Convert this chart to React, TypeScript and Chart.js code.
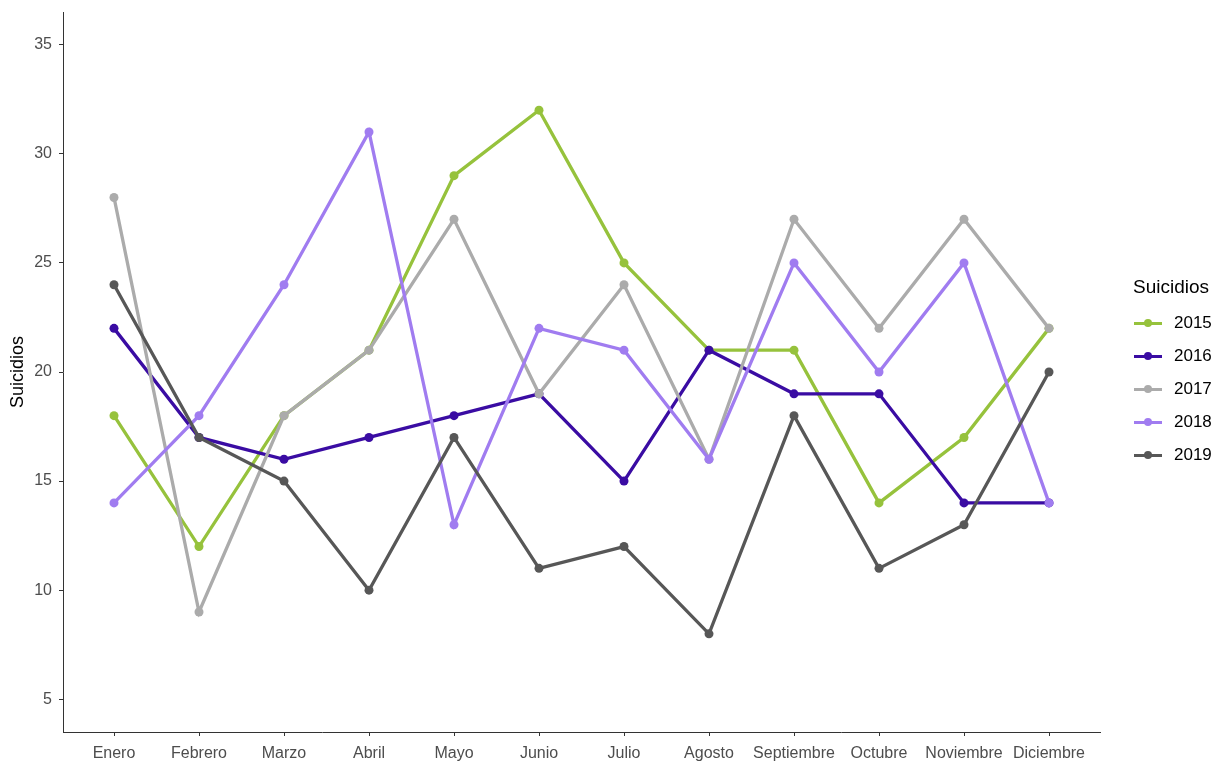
import React, { useEffect, useRef } from "react";
import { Chart, registerables } from "chart.js";

Chart.register(...registerables);

const months = ["Enero", "Febrero", "Marzo", "Abril", "Mayo", "Junio", "Julio", "Agosto", "Septiembre", "Octubre", "Noviembre", "Diciembre"];
const years = ["2015", "2016", "2017", "2018", "2019"];
const colors = ["#96C23C", "#3A0CA3", "#ABABAB", "#A07CF0", "#575757"];
const s2015 = [18, 12, 18, 21, 29, 32, 25, 21, 21, 14, 17, 22];
const s2016 = [22, 17, 16, 17, 18, 19, 15, 21, 19, 19, 14, 14];
const s2017 = [28, 9, 18, 21, 27, 19, 24, 16, 27, 22, 27, 22];
const s2018 = [14, 18, 24, 31, 13, 22, 21, 16, 25, 20, 25, 14];
const s2019 = [24, 17, 15, 10, 17, 11, 12, 8, 18, 11, 13, 20];
const series = [s2015, s2016, s2017, s2018, s2019];
const yTicks = [5, 10, 15, 20, 25, 30, 35];

const FONT = "'Liberation Sans', Arial, sans-serif";

export default function App() {
  const ref = useRef<HTMLCanvasElement | null>(null);
  useEffect(() => {
    if (!ref.current) return;
    const chart = new Chart(ref.current, {
      type: "line",
      data: {
        datasets: series.map((vals, i) => ({
          label: years[i],
          data: vals.map((v, j) => ({ x: j, y: v })),
          borderColor: colors[i],
          backgroundColor: colors[i],
          borderWidth: 3.3,
          pointRadius: 4.5,
          pointBorderWidth: 0,
          pointHoverRadius: 4.5,
          tension: 0,
          order: series.length - 1 - i,
        })),
      },
      options: {
        animation: false,
        responsive: false,
        layout: { padding: { top: 12, right: 126, left: 0, bottom: 0 } },
        plugins: { legend: { display: false }, tooltip: { enabled: false } },
        scales: {
          x: {
            type: "linear",
            min: -0.6,
            max: months.length - 1 + 0.6,
            afterBuildTicks: (scale: any) => {
              scale.ticks = months.map((_, i) => ({ value: i }));
            },
            afterFit: (scale: any) => {
              scale.height = 29;
              scale.paddingLeft = 0;
              scale.paddingRight = 0;
            },
            ticks: {
              autoSkip: false,
              maxRotation: 0,
              minRotation: 0,
              padding: 8,
              color: "#4D4D4D",
              font: { family: FONT, size: 16 },
              callback: (v: any) => months[v as number],
            },
            grid: { drawOnChartArea: false, drawTicks: true, tickLength: 4, color: "#333333" },
            border: { display: true, color: "#333333", width: 1 },
          },
          y: {
            type: "linear",
            min: 3.5,
            max: 36.5,
            afterBuildTicks: (scale: any) => {
              scale.ticks = yTicks.map((v) => ({ value: v }));
            },
            afterFit: (scale: any) => {
              scale.width = 63;
              scale.paddingTop = 0;
              scale.paddingBottom = 0;
            },
            ticks: {
              padding: 7,
              color: "#4D4D4D",
              font: { family: FONT, size: 16 },
            },
            title: {
              display: true,
              text: "Suicidios",
              color: "#000000",
              padding: { top: 7, bottom: 0 },
              font: { family: FONT, size: 18 },
            },
            grid: { drawOnChartArea: false, drawTicks: true, tickLength: 4, color: "#333333" },
            border: { display: true, color: "#333333", width: 1 },
          },
        },
      },
    });
    return () => chart.destroy();
  }, []);

  return (
    <div style={{ position: "absolute", left: 0, top: 0, width: 1226, height: 761, background: "#fff" }}>
      <canvas ref={ref} width={1226} height={761} style={{ position: "absolute", left: 0, top: 0 }} />
      <div style={{ position: "absolute", left: 1133, top: 275, fontFamily: FONT, fontSize: 19, color: "#000", lineHeight: "24px" }}>
        Suicidios
      </div>
      {years.map((yr, i) => (
        <div key={yr} style={{ position: "absolute", left: 1134, top: 312 + i * 33, height: 22, width: 92, fontFamily: FONT }}>
          <div style={{ position: "absolute", left: 0, top: 9.5, width: 28, height: 3, background: colors[i] }} />
          <div style={{ position: "absolute", left: 10, top: 7, width: 8, height: 8, borderRadius: 4, background: colors[i] }} />
          <div style={{ position: "absolute", left: 40, top: 0, fontSize: 17, lineHeight: "22px", color: "#000" }}>{yr}</div>
        </div>
      ))}
    </div>
  );
}
